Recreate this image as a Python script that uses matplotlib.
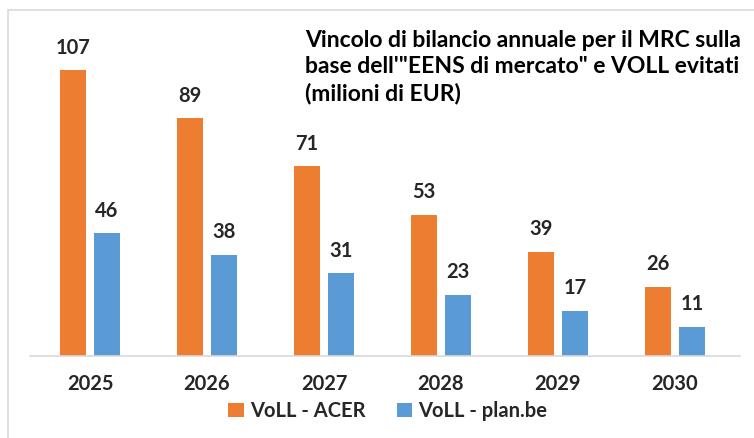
import matplotlib.pyplot as plt
import numpy as np
from matplotlib.patches import Rectangle

years = ['2025', '2026', '2027', '2028', '2029', '2030']
voll_acer = [107, 89, 71, 53, 39, 26]
voll_plan = [46, 38, 31, 23, 17, 11]

orange = '#ED7D31'
blue = '#5B9BD5'
plt.rcParams['font.family'] = ['Lato', 'DejaVu Sans']

fig = plt.figure(figsize=[7.54, 4.38], dpi=100)
# light frame, cropped on the right/bottom as in the original
fig.patches.append(Rectangle((8 / 754, -0.1), 2.0, (428 / 438) + 0.1, transform=fig.transFigure,
                             fill=False, edgecolor='#D9D9D9', linewidth=1.2))

ax = fig.add_axes([30 / 754, 82 / 438, 710 / 754, 346 / 438])
x = np.arange(len(years))
w = 0.225
b1 = ax.bar(x - 0.145, voll_acer, w, color=orange, label='VoLL - ACER')
b2 = ax.bar(x + 0.145, voll_plan, w, color=blue, label='VoLL - plan.be')

for bars in (b1, b2):
    for r in bars:
        ax.annotate('%d' % r.get_height(), (r.get_x() + r.get_width() / 2, r.get_height()),
                    xytext=(0, 9), textcoords='offset points', ha='center', va='bottom',
                    fontsize=14.5, fontweight='bold', color='#262626')

ax.set_xlim(-0.513, 5.556)
ax.set_ylim(0, 129.6)
ax.set_xticks(x)
ax.set_xticklabels(years, fontsize=14.5, fontweight='bold', color='#262626')
ax.tick_params(axis='x', length=0, pad=13)
ax.set_yticks([])
for s in ['top', 'right', 'left']:
    ax.spines[s].set_visible(False)
ax.spines['bottom'].set_color('#D9D9D9')
ax.spines['bottom'].set_linewidth(1.2)

fig.text(305 / 754, 1 - 30 / 438,
         'Vincolo di bilancio annuale per il MRC sulla\nbase dell\'"EENS di mercato" e VOLL evitati\n(milioni di EUR)',
         ha='left', va='top', fontsize=16.5, fontweight='bold', color='#000000', linespacing=1.32)

leg = fig.legend(handles=[b1, b2], loc='center', bbox_to_anchor=(388 / 754, 1 - 411 / 438), ncol=2,
                 frameon=False, handlelength=0.75, handleheight=0.75, handletextpad=0.3, columnspacing=1.6,
                 prop={'size': 14.5, 'weight': 'bold'})
for t in leg.get_texts():
    t.set_color('#262626')

fig.savefig('out.png', dpi=100)
